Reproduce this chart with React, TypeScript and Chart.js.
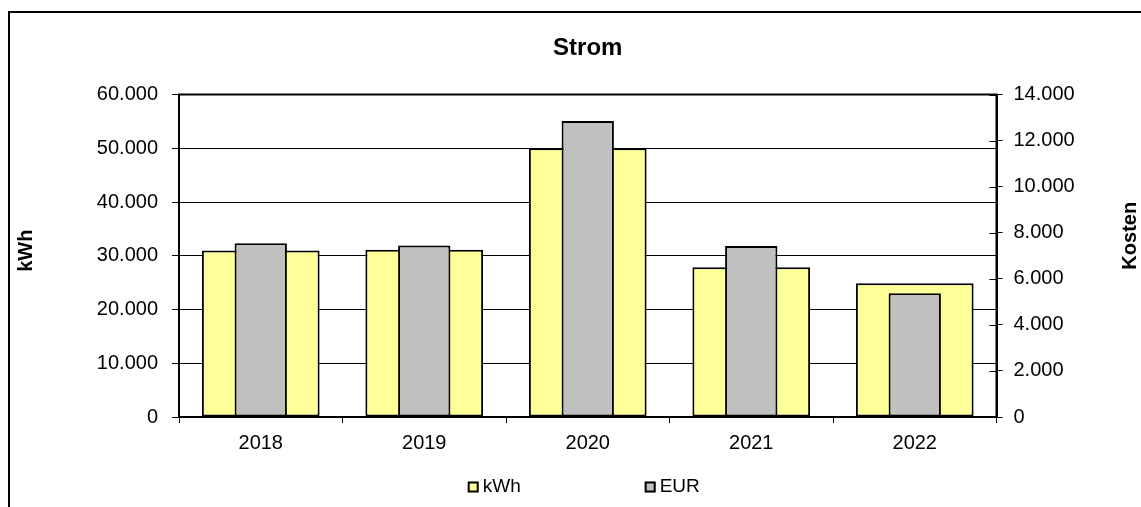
import React, { useEffect, useRef } from 'react';
import { Chart, registerables } from 'chart.js';

Chart.register(...registerables);

const years = ['2018', '2019', '2020', '2021', '2022'];
const kwhValues = [31000, 31100, 50000, 27850, 24900];
const eurValues = [7540, 7450, 12850, 7420, 5370];
const seriesLabels = ['kWh', 'EUR'];
const chartTitle = 'Strom';
const leftAxisTitle = 'kWh';
const rightAxisTitle = 'Kosten';
const leftTicks = { min: 0, max: 60000, step: 10000 };
const rightTicks = { min: 0, max: 14000, step: 2000 };

const FONT = "'Liberation Sans', Arial, Helvetica, sans-serif";
const YELLOW = '#FFFF99';
const GREY = '#C0C0C0';

function fmt(v: number): string {
  return String(v).replace(/\B(?=(\d{3})+(?!\d))/g, '.');
}

const excelPlugin = {
  id: 'excelFrame',
  afterDraw(chart: any) {
    const { ctx, chartArea: a } = chart;
    ctx.save();
    // plot frame
    ctx.strokeStyle = '#000';
    ctx.lineWidth = 2;
    ctx.strokeRect(a.left, a.top, a.right - a.left, a.bottom - a.top);
    // inner part of right axis tick marks
    const y1 = chart.scales.y1;
    ctx.lineWidth = 1;
    y1.ticks.forEach((t: any) => {
      const py = Math.round(y1.getPixelForValue(t.value)) + 0.5;
      ctx.beginPath();
      ctx.moveTo(a.right - 7, py);
      ctx.lineTo(a.right, py);
      ctx.stroke();
    });
    // axis titles (both read bottom-to-top, as in the Excel original)
    const midY = (a.top + a.bottom) / 2;
    ctx.fillStyle = '#000';
    ctx.font = `bold 20px ${FONT}`;
    ctx.textAlign = 'center';
    ctx.textBaseline = 'middle';
    const drawVertical = (text: string, x: number, y: number) => {
      ctx.save();
      ctx.translate(x, y);
      ctx.rotate(-Math.PI / 2);
      ctx.fillText(text, 0, 0);
      ctx.restore();
    };
    drawVertical(leftAxisTitle, 26, midY - 5);
    drawVertical(rightAxisTitle, chart.width - 11, midY - 20);
    // legend
    const fs = 19;
    ctx.font = `${fs}px ${FONT}`;
    ctx.textBaseline = 'middle';
    ctx.textAlign = 'left';
    const items = chart.data.datasets.map((ds: any) => ({ text: ds.label, color: ds.backgroundColor }));
    const box = 11;
    const gapBoxText = 4;
    const gapItems = 124;
    const widths = items.map((it: any) => box + gapBoxText + ctx.measureText(it.text).width);
    const total = widths.reduce((s: number, w: number) => s + w, 0) + gapItems * (items.length - 1);
    let x = (a.left + a.right) / 2 - total / 2 - 4;
    const cy = chart.height - 20;
    items.forEach((it: any, i: number) => {
      ctx.fillStyle = it.color;
      ctx.fillRect(x, cy - box / 2, box, box);
      ctx.strokeStyle = '#000';
      ctx.lineWidth = 2;
      ctx.strokeRect(x + 1, cy - box / 2 + 1, box - 2, box - 2);
      ctx.fillStyle = '#000';
      ctx.fillText(it.text, x + box + gapBoxText, cy);
      x += widths[i] + gapItems;
    });
    ctx.restore();
  },
};

export default function App() {
  const ref = useRef<HTMLCanvasElement>(null);

  useEffect(() => {
    if (!ref.current) return;
    Chart.defaults.font.family = FONT;
    Chart.defaults.color = '#000';
    const chart = new Chart(ref.current, {
      type: 'bar',
      data: {
        labels: years,
        datasets: [
          {
            label: seriesLabels[0],
            data: kwhValues,
            yAxisID: 'y',
            backgroundColor: YELLOW,
            borderColor: '#000',
            borderWidth: 2,
            borderSkipped: false,
            grouped: false,
            categoryPercentage: 1,
            barPercentage: 0.72,
            order: 2,
          },
          {
            label: seriesLabels[1],
            data: eurValues,
            yAxisID: 'y1',
            backgroundColor: GREY,
            borderColor: '#000',
            borderWidth: 2,
            borderSkipped: false,
            grouped: false,
            categoryPercentage: 1,
            barPercentage: 0.32,
            order: 1,
          },
        ],
      },
      options: {
        responsive: false,
        animation: false,
        layout: { padding: { left: 0, right: 0, top: 0, bottom: 50 } },
        plugins: {
          legend: { display: false },
          tooltip: { enabled: false },
          title: {
            display: true,
            text: chartTitle,
            fullSize: false,
            color: '#000',
            font: { family: FONT, size: 24, weight: 'bold', lineHeight: 1.2 },
            padding: { top: 34.2, bottom: 31.5 },
          },
        },
        scales: {
          x: {
            afterFit: (s: any) => {
              s.height = 40;
            },
            grid: {
              display: true,
              offset: true,
              drawOnChartArea: false,
              drawTicks: true,
              tickLength: 6,
              color: '#000',
              lineWidth: 1,
            },
            border: { display: true, color: '#000', width: 2 },
            ticks: { color: '#000', font: { family: FONT, size: 20, lineHeight: 1.2 }, padding: 8, maxRotation: 0 },
          },
          y: {
            position: 'left',
            min: leftTicks.min,
            max: leftTicks.max,
            afterFit: (s: any) => {
              s.width = 179;
            },
            grid: { color: '#000', lineWidth: 1, drawTicks: true, tickLength: 7 },
            border: { display: true, color: '#000', width: 2 },
            ticks: {
              stepSize: leftTicks.step,
              color: '#000',
              padding: 14,
              font: { family: FONT, size: 20 },
              callback: (v: any) => fmt(Number(v)),
            },
            title: { display: false },
          },
          y1: {
            position: 'right',
            min: rightTicks.min,
            max: rightTicks.max,
            afterFit: (s: any) => {
              s.width = 144.5;
            },
            grid: { drawOnChartArea: false, color: '#000', lineWidth: 1, drawTicks: true, tickLength: 6 },
            border: { display: true, color: '#000', width: 2 },
            ticks: {
              stepSize: rightTicks.step,
              color: '#000',
              padding: 11,
              font: { family: FONT, size: 20 },
              callback: (v: any) => fmt(Number(v)),
            },
            title: { display: false },
          },
        },
      } as any,
      plugins: [excelPlugin],
    });
    return () => chart.destroy();
  }, []);

  return (
    <div style={{ position: 'absolute', left: 0, top: 0, width: 1141, height: 507, overflow: 'hidden', background: '#fff' }}>
      <div
        style={{
          position: 'absolute',
          left: 8,
          top: 11,
          right: 0,
          bottom: 0,
          borderLeft: '2px solid #000',
          borderTop: '2px solid #000',
        }}
      />
      <canvas ref={ref} width={1141} height={507} style={{ position: 'absolute', left: 0, top: 0 }} />
    </div>
  );
}
